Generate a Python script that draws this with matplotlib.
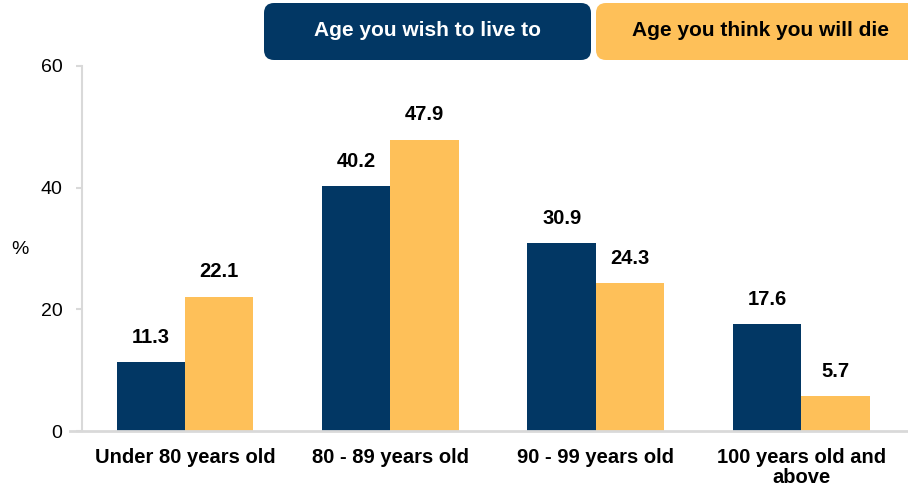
import matplotlib
matplotlib.use("Agg")
import matplotlib.pyplot as plt
from matplotlib.patches import FancyBboxPatch
import numpy as np

plt.rcParams['font.family'] = ['Liberation Sans', 'DejaVu Sans']

categories = ["Under 80 years old", "80 - 89 years old", "90 - 99 years old", "100 years old and\nabove"]
wish = [11.3, 40.2, 30.9, 17.6]
think = [22.1, 47.9, 24.3, 5.7]
series_names = ["Age you wish to live to", "Age you think you will die"]
yticks = [0, 20, 40, 60]

navy = "#023764"
yellow = "#FEC059"
grid = "#D9D9D9"

W, H = 908, 493
fig = plt.figure(figsize=(W/100, H/100), dpi=100)
ax = fig.add_axes([82/W, (H-431)/H, (908-82)/W, (431-66)/H])

x = np.arange(len(categories))
bw = 0.333
b1 = ax.bar(x - bw/2, wish, bw, color=navy)
b2 = ax.bar(x + bw/2, think, bw, color=yellow)

for bars, vals in ((b1, wish), (b2, think)):
    for r, v in zip(bars, vals):
        ax.annotate(f"{v:.1f}", (r.get_x() + r.get_width()/2, v), xytext=(0, 11),
                    textcoords="offset points", ha="center", va="bottom",
                    fontsize=14.5, fontweight="bold", color="black")

ax.set_xlim(-0.502, 3.52)
ax.set_ylim(0, 60)
ax.set_yticks(yticks)
ax.set_xticks(x)
ax.set_xticklabels(categories, fontsize=14.5, fontweight="bold", linespacing=1.12)
ax.tick_params(axis="y", labelsize=14, length=4, color=grid, width=1.5, pad=10)
ax.tick_params(axis="x", length=0, pad=12)
for s in ("top", "right", "bottom"):
    ax.spines[s].set_visible(False)
ax.spines["left"].set_color(grid)
ax.spines["left"].set_linewidth(1.5)
ax.axhline(0, xmin=-0.014, xmax=1, color=grid, lw=2, clip_on=False, zorder=3)

fig.text(20/W, 1 - 250/H, "%", fontsize=14, ha="center", va="center")

# legend boxes
def box(x0, x1, color, text, tcolor, tx):
    p = FancyBboxPatch((x0/W, 1 - 60/H), (x1-x0)/W, 57/H,
                       boxstyle="round,pad=0,rounding_size=0.011",
                       transform=fig.transFigure, facecolor=color, edgecolor="none",
                       mutation_aspect=W/H, clip_on=False)
    fig.patches.append(p)
    fig.text(tx/W, 1 - 31/H, text, fontsize=15, fontweight="bold", color=tcolor,
             ha="center", va="center")

box(264, 591, navy, series_names[0], "white", 428)
box(596, 925, yellow, series_names[1], "black", 760)

fig.savefig("out.png", dpi=100)
